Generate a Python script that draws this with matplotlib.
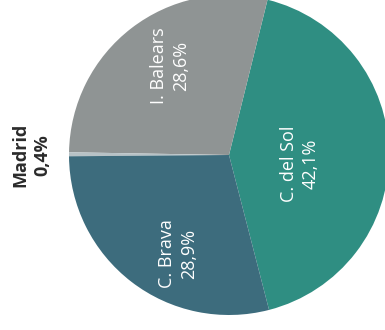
import matplotlib
matplotlib.use("Agg")
import matplotlib.pyplot as plt

categories = ["C. del Sol", "I. Balears", "Madrid", "C. Brava"]
values = [42.1, 28.6, 0.4, 28.9]
pct_labels = ["42,1%", "28,6%", "0,4%", "28,9%"]
colors = ["#2f8e82", "#8f9494", "#b7c2c6", "#3d6c7d"]

W, H = 385, 330
fig = plt.figure(figsize=(W / 100, H / 100), dpi=100)
ax = fig.add_axes([0, 0, 1, 1])

cx, cy, r = 229, H - 155, 160
ax.pie(values, colors=colors, startangle=-75.5, counterclock=True,
       radius=r, center=(cx, cy), frame=True,
       wedgeprops=dict(edgecolor="none", linewidth=0))
ax.set_xlim(0, W)
ax.set_ylim(0, H)
ax.set_aspect("equal")
ax.axis("off")

# label placements (x, y in pixels from top-left), color, weight, size
placements = {
    "C. del Sol": (300, 164, "white", "normal", 13),
    "I. Balears": (170, 66, "white", "normal", 13),
    "Madrid": (31, 155, "#2b2b2b", "bold", 13),
    "C. Brava": (178, 254, "white", "normal", 13),
}
for cat, pct in zip(categories, pct_labels):
    x, y, col, wt, fs = placements[cat]
    ax.text(x, H - y, f"{cat}\n{pct}", rotation=90, ha="center", va="center",
            color=col, fontsize=fs, fontweight=wt, family="Open Sans",
            linespacing=1.3, multialignment="center")

fig.savefig("out.png", dpi=100, facecolor="white")
